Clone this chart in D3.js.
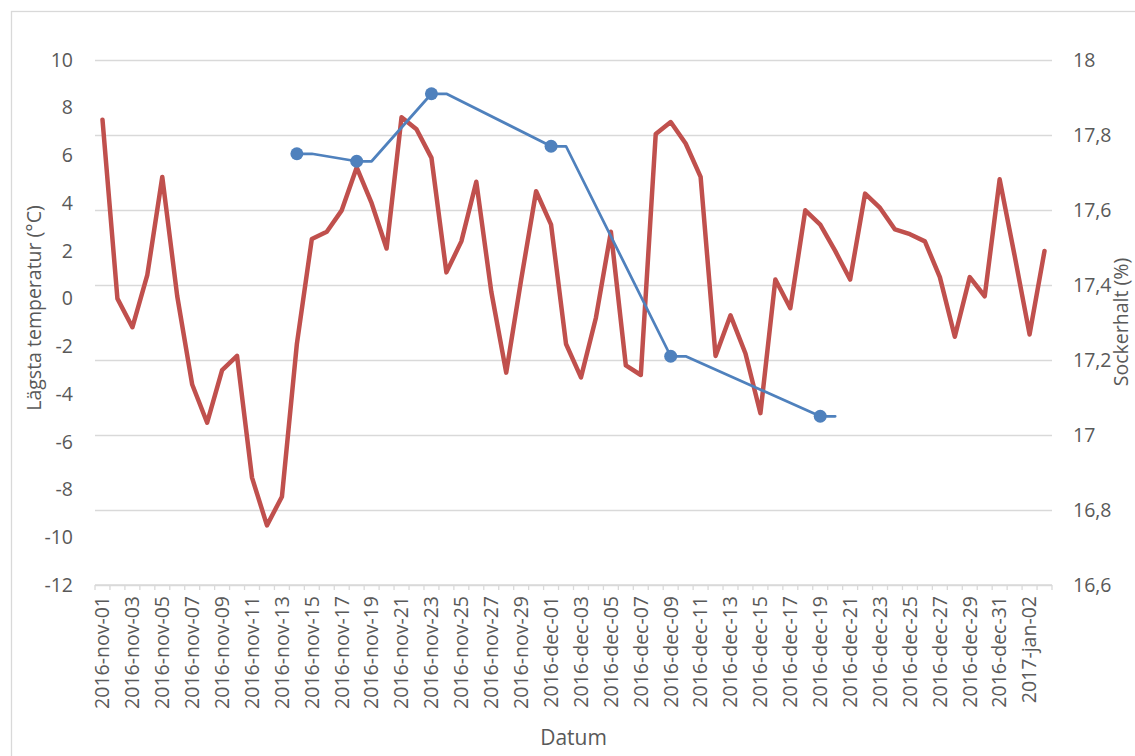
<!DOCTYPE html>
<html>
<head>
<meta charset="utf-8">
<script src="https://cdn.jsdelivr.net/npm/d3@7"></script>
<style>
	body { margin: 0; background: #fff; }
	text { font-family: "Open Sans", sans-serif; fill: #595959; }
</style>
</head>
<body>
<div id="chart"></div>
<script>
// categories: one per day
const days = [
	'2016-nov-01', '2016-nov-02', '2016-nov-03', '2016-nov-04', '2016-nov-05', '2016-nov-06', '2016-nov-07', '2016-nov-08',
	'2016-nov-09', '2016-nov-10', '2016-nov-11', '2016-nov-12', '2016-nov-13', '2016-nov-14', '2016-nov-15', '2016-nov-16',
	'2016-nov-17', '2016-nov-18', '2016-nov-19', '2016-nov-20', '2016-nov-21', '2016-nov-22', '2016-nov-23', '2016-nov-24',
	'2016-nov-25', '2016-nov-26', '2016-nov-27', '2016-nov-28', '2016-nov-29', '2016-nov-30', '2016-dec-01', '2016-dec-02',
	'2016-dec-03', '2016-dec-04', '2016-dec-05', '2016-dec-06', '2016-dec-07', '2016-dec-08', '2016-dec-09', '2016-dec-10',
	'2016-dec-11', '2016-dec-12', '2016-dec-13', '2016-dec-14', '2016-dec-15', '2016-dec-16', '2016-dec-17', '2016-dec-18',
	'2016-dec-19', '2016-dec-20', '2016-dec-21', '2016-dec-22', '2016-dec-23', '2016-dec-24', '2016-dec-25', '2016-dec-26',
	'2016-dec-27', '2016-dec-28', '2016-dec-29', '2016-dec-30', '2016-dec-31', '2017-jan-01', '2017-jan-02', '2017-jan-03'
];

// lowest temperature per day (°C), left axis
const minTemps = [
	7.5, 0.0, -1.2, 1.0, 5.1, 0.1, -3.6, -5.2, -3.0, -2.4, -7.5, -9.5, -8.3, -1.9, 2.5, 2.8,
	3.7, 5.5, 4.0, 2.1, 7.6, 7.1, 5.9, 1.1, 2.4, 4.9, 0.3, -3.1, 0.8, 4.5, 3.1, -1.9,
	-3.3, -0.8, 2.8, -2.8, -3.2, 6.9, 7.4, 6.5, 5.1, -2.4, -0.7, -2.3, -4.8, 0.8, -0.4, 3.7,
	3.1, 2.0, 0.8, 4.4, 3.8, 2.9, 2.7, 2.4, 0.9, -1.6, 0.9, 0.1, 5.0, 1.8, -1.5, 2.0
];

// sugar content (%), right axis
const sugarDays = [
	'2016-nov-14', '2016-nov-15', '2016-nov-18', '2016-nov-19', '2016-nov-23', '2016-nov-24',
	'2016-dec-01', '2016-dec-02', '2016-dec-09', '2016-dec-10', '2016-dec-19', '2016-dec-20'
];
const sugarValues = [17.75, 17.75, 17.73, 17.73, 17.91, 17.91, 17.77, 17.77, 17.21, 17.21, 17.05, 17.05];
const sampleDays = ['2016-nov-14', '2016-nov-18', '2016-nov-23', '2016-dec-01', '2016-dec-09', '2016-dec-19'];

const leftTicks = [-12, -10, -8, -6, -4, -2, 0, 2, 4, 6, 8, 10];
const rightTicks = [16.6, 16.8, 17, 17.2, 17.4, 17.6, 17.8, 18];

const W = 1135, H = 756;
const marg = { left: 95, right: 83, top: 60, bot: 171 };
const fsTick = 19.5, fsTitle = 19.5;

// swedish style numbers: decimal comma, plain hyphen for minus
const sv = d3.formatLocale({ decimal: ',', thousands: ' ', grouping: [3], currency: ['', ' kr'], minus: '-' });
const fmtLeft = sv.format('d');
const fmtRight = sv.format('~g');

const svg = d3.select('#chart').append('svg').attr('width', W).attr('height', H);

// outer chart border (cropped by the picture on the right and bottom)
svg.append('rect')
	.attr('x', 11.5).attr('y', 11.5)
	.attr('width', W + 50).attr('height', H + 50)
	.attr('fill', 'none').attr('stroke', '#d9d9d9').attr('stroke-width', 1.3);

const x = d3.scaleBand().domain(days).range([marg.left, W - marg.right]).padding(0);
const yL = d3.scaleLinear().domain([-12, 10]).range([H - marg.bot, marg.top]);
const yR = d3.scaleLinear().domain([16.6, 18]).range([H - marg.bot, marg.top]);
const cx = (d) => x(d) + x.bandwidth() / 2;

// gridlines follow the secondary axis
svg.append('g')
	.attr('transform', 'translate(' + marg.left + ',0)')
	.call(d3.axisLeft(yR).tickValues(rightTicks).tickSize(-(W - marg.right - marg.left)).tickFormat(''))
	.call((g) => g.select('.domain').remove())
	.selectAll('line').attr('stroke', '#d9d9d9').attr('stroke-width', 1.3);

// left axis labels
svg.append('g')
	.attr('transform', 'translate(' + (marg.left - 22) + ',0)')
	.call(d3.axisLeft(yL).tickValues(leftTicks).tickSize(0).tickPadding(0).tickFormat(fmtLeft))
	.call((g) => g.select('.domain').remove())
	.selectAll('text').attr('font-size', fsTick).style('font-family', '"Open Sans", sans-serif').attr('fill', '#595959');

// right axis labels
svg.append('g')
	.attr('transform', 'translate(' + (W - marg.right + 21) + ',0)')
	.call(d3.axisRight(yR).tickValues(rightTicks).tickSize(0).tickPadding(0).tickFormat(fmtRight))
	.call((g) => g.select('.domain').remove())
	.selectAll('text').attr('font-size', fsTick).style('font-family', '"Open Sans", sans-serif').attr('fill', '#595959');

// category axis: line, ticks between days, labels every other day
const xAxisY = H - marg.bot;
const xg = svg.append('g').attr('transform', 'translate(0,' + xAxisY + ')');
xg.append('line')
	.attr('x1', marg.left).attr('x2', W - marg.right)
	.attr('stroke', '#d9d9d9').attr('stroke-width', 1.3);
xg.selectAll('.tk')
	.data(days.concat(['end']))
	.enter()
	.append('line')
	.attr('class', 'tk')
	.attr('x1', (d) => d == 'end' ? x.range()[1] : x(d))
	.attr('x2', (d) => d == 'end' ? x.range()[1] : x(d))
	.attr('y1', 0).attr('y2', 5)
	.attr('stroke', '#d9d9d9').attr('stroke-width', 1.3);

svg.append('g')
	.attr('transform', 'translate(0,' + xAxisY + ')')
	.call(d3.axisBottom(x).tickValues(days.filter((d, i) => i % 2 == 0)).tickSize(0))
	.call((g) => g.select('.domain').remove())
	.selectAll('text')
	.attr('font-size', fsTick)
	.style('font-family', '"Open Sans", sans-serif')
	.attr('fill', '#595959')
	.attr('transform', 'rotate(-90)')
	.attr('x', -11).attr('y', 0).attr('dy', '0.35em')
	.attr('text-anchor', 'end');

// axis titles
svg.append('text')
	.attr('transform', 'translate(33,308) rotate(-90)')
	.attr('text-anchor', 'middle').attr('dominant-baseline', 'central')
	.attr('font-size', fsTitle)
	.text('Lägsta temperatur (°C)');

svg.append('text')
	.attr('transform', 'translate(1120,322) rotate(-90)')
	.attr('text-anchor', 'middle').attr('dominant-baseline', 'central')
	.attr('font-size', fsTitle)
	.text('Sockerhalt (%)');

svg.append('text')
	.attr('x', (marg.left + W - marg.right) / 2).attr('y', 745)
	.attr('text-anchor', 'middle')
	.attr('font-size', 21)
	.text('Datum');

// temperature line
const tempLine = d3.line().x((d) => cx(d[0])).y((d) => yL(d[1]));
svg.append('path')
	.datum(days.map((d, i) => [d, minTemps[i]]))
	.attr('d', tempLine)
	.attr('fill', 'none')
	.attr('stroke', '#c0504d')
	.attr('stroke-width', 4.5)
	.attr('stroke-linejoin', 'round')
	.attr('stroke-linecap', 'round');

// sugar line + markers on sample days
const sugarLine = d3.line().x((d) => cx(d[0])).y((d) => yR(d[1]));
svg.append('path')
	.datum(sugarDays.map((d, i) => [d, sugarValues[i]]))
	.attr('d', sugarLine)
	.attr('fill', 'none')
	.attr('stroke', '#4f81bd')
	.attr('stroke-width', 2.75)
	.attr('stroke-linejoin', 'round')
	.attr('stroke-linecap', 'round');

svg.append('g')
	.selectAll('circle')
	.data(sampleDays)
	.enter()
	.append('circle')
	.attr('cx', (d) => cx(d))
	.attr('cy', (d) => yR(sugarValues[sugarDays.indexOf(d)]))
	.attr('r', 6.5)
	.attr('fill', '#4f81bd');
</script>
</body>
</html>
